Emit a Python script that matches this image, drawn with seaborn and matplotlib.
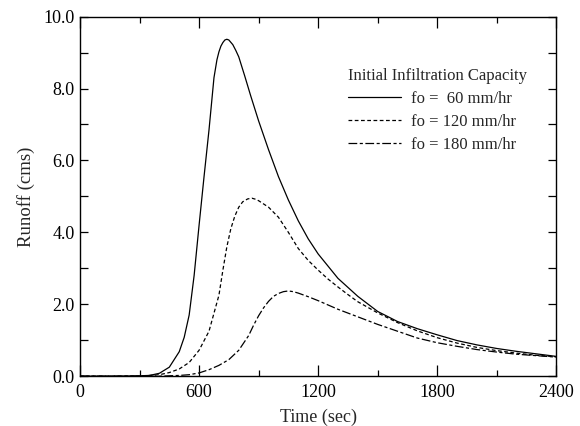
import numpy as np
import pandas as pd
import matplotlib
matplotlib.use("Agg")
import matplotlib.pyplot as plt
import seaborn as sns
from matplotlib.ticker import MultipleLocator, FixedLocator

# ---- data ----
t_60 = [0, 150, 300, 350, 400, 450, 500, 525, 550, 575, 600, 625, 650, 675, 690,
        700, 710, 720, 730, 740, 750, 770, 785, 800, 830, 860, 900, 950, 1000,
        1050, 1100, 1150, 1200, 1300, 1400, 1500, 1600, 1700, 1800, 1900, 2000,
        2100, 2200, 2300, 2400]
q_60 = [0.0, 0.0, 0.01, 0.02, 0.08, 0.25, 0.68, 1.08, 1.7, 2.8, 4.2, 5.55, 6.85, 8.3, 8.8,
        9.02, 9.18, 9.28, 9.35, 9.37, 9.35, 9.22, 9.06, 8.88, 8.35, 7.8, 7.1, 6.3, 5.55,
        4.9, 4.32, 3.82, 3.4, 2.72, 2.22, 1.8, 1.52, 1.32, 1.15, 0.99, 0.87,
        0.77, 0.69, 0.62, 0.55]

t_120 = [0, 300, 400, 450, 500, 550, 600, 650, 700, 720, 740, 760, 780, 800, 820,
         845, 866, 885, 900, 950, 1000, 1050, 1100, 1150, 1200, 1250, 1300, 1350,
         1400, 1500, 1600, 1700, 1800, 1900, 2000, 2100, 2200, 2300, 2400]
q_120 = [0.0, 0.0, 0.04, 0.1, 0.2, 0.38, 0.72, 1.25, 2.25, 2.95, 3.6, 4.1, 4.45, 4.7, 4.85,
         4.93, 4.95, 4.92, 4.88, 4.7, 4.42, 4.0, 3.55, 3.22, 2.95, 2.7, 2.48, 2.27,
         2.07, 1.76, 1.49, 1.26, 1.07, 0.92, 0.8, 0.71, 0.64, 0.58, 0.54]

t_180 = [0, 400, 500, 550, 600, 650, 700, 750, 800, 850, 875, 900, 925, 950, 975,
         1000, 1025, 1050, 1075, 1100, 1150, 1200, 1300, 1400, 1500, 1600, 1700,
         1800, 1900, 2000, 2100, 2200, 2300, 2400]
q_180 = [0.0, 0.0, 0.02, 0.04, 0.09, 0.18, 0.3, 0.46, 0.72, 1.13, 1.42, 1.68, 1.9, 2.08, 2.22,
         2.3, 2.35, 2.37, 2.35, 2.31, 2.21, 2.1, 1.86, 1.65, 1.44, 1.25, 1.06,
         0.93, 0.83, 0.74, 0.67, 0.61, 0.57, 0.53]

labels = ["fo =  60 mm/hr", "fo = 120 mm/hr", "fo = 180 mm/hr"]
x_ticks = [0, 600, 1200, 1800, 2400]
y_ticks = [0.0, 2.0, 4.0, 6.0, 8.0, 10.0]
y_ticklabels = ["0.0", "2.0", "4.0", "6.0", "8.0", "10.0"]

# ---- style ----
sns.set_style("ticks")
plt.rcParams["font.family"] = ["Liberation Serif", "DejaVu Serif"]

fig = plt.figure(figsize=(5.8, 4.26), dpi=100)
ax = fig.add_axes([0.138, 0.117, 0.821, 0.844])

styles = ["-", (0, (3.0, 2.0)), (0, (7.0, 2.0, 2.5, 2.0))]
for t, q, lab, ls in zip([t_60, t_120, t_180], [q_60, q_120, q_180], labels, styles):
    df = pd.DataFrame({"t": t, "q": q})
    sns.lineplot(data=df, x="t", y="q", ax=ax, color="black", linewidth=0.9,
                 linestyle=ls, label=lab, sort=False)

ax.set_xlim(0, 2400)
ax.set_ylim(0, 10)
ax.xaxis.set_major_locator(FixedLocator(x_ticks))
ax.xaxis.set_minor_locator(MultipleLocator(300))
ax.yaxis.set_major_locator(FixedLocator(y_ticks))
ax.yaxis.set_minor_locator(MultipleLocator(1))
ax.set_yticklabels(y_ticklabels)

for s in ax.spines.values():
    s.set_visible(True)
    s.set_linewidth(1.0)
    s.set_color("black")

ax.tick_params(axis="both", which="both", direction="in", top=True, right=True,
               colors="black", labelsize=13)
ax.tick_params(axis="x", which="major", length=8, width=0.9, pad=6)
ax.tick_params(axis="x", which="minor", length=4.5, width=0.9)
ax.tick_params(axis="y", which="major", length=6, width=0.9, pad=4)
ax.tick_params(axis="y", which="minor", length=6, width=0.9)

ax.set_xlabel("Time (sec)", fontsize=13, labelpad=5)
ax.set_ylabel("Runoff (cms)", fontsize=13.5, labelpad=6)

leg = ax.legend(title="Initial Infiltration Capacity", loc="upper left",
                bbox_to_anchor=(0.538, 0.89), frameon=False, fontsize=12,
                title_fontsize=12, handlelength=3.2, handletextpad=0.6,
                labelspacing=0.42, borderpad=0.2, alignment="left")

fig.savefig("out.png", dpi=100, facecolor="white")
